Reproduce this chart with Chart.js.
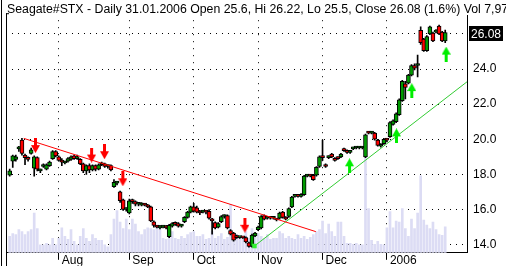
<!DOCTYPE html>
<html><head><meta charset="utf-8">
<script src="https://cdn.jsdelivr.net/npm/chart.js@4"></script>
<style>html,body{margin:0;padding:0;background:#fff;overflow:hidden}canvas{display:block}</style>
</head><body>
<canvas id="c" width="506" height="266"></canvas>
<script>
const titleText = 'Seagate#STX - Daily 31.01.2006 Open 25.6, Hi 26.22, Lo 25.5, Close 26.08 (1.6%) Vol 7,97';
const monthTicks = [16, 39, 60, 81, 102, 123];
const monthLabels = ['Aug', 'Sep', 'Oct', 'Nov', 'Dec', '2006'];
const priceTicks = [14, 16, 18, 20, 22, 24, 26];

const open = [
17.95,18.75,18.85,19.45,19.95,19.10,18.95,19.20,18.35,18.95,
18.20,18.45,18.30,18.50,18.90,19.30,19.00,18.75,18.65,18.75,
18.85,19.05,18.90,18.85,18.60,18.20,18.50,18.25,18.50,18.30,
18.55,18.60,18.45,18.50,17.30,17.50,17.00,16.55,16.00,15.80,
16.50,16.45,16.30,16.25,16.30,16.25,16.15,15.30,15.05,14.95,
15.00,15.05,14.45,15.05,15.20,15.20,15.05,15.30,15.55,15.85,
16.15,16.10,15.85,15.85,15.90,15.90,15.45,15.25,15.00,15.30,
15.60,15.65,14.80,14.65,14.45,14.40,14.40,14.40,14.10,13.90,
14.50,14.85,14.95,15.65,15.50,15.55,15.50,15.45,15.50,15.85,
15.55,15.60,16.15,16.75,16.80,16.75,16.85,17.90,17.95,17.95,
17.95,18.45,19.00,18.50,18.95,19.15,18.85,18.95,19.00,19.45,
19.35,19.25,19.45,19.50,19.50,19.50,19.00,20.40,20.35,20.35,
19.95,19.60,19.75,20.00,20.15,20.85,21.00,21.40,22.20,23.15,
23.20,23.65,24.20,24.20,26.20,25.70,25.05,26.00,26.05,26.10,
26.45,26.10,25.60];
const high = [
18.30,19.10,19.10,19.60,20.05,19.15,19.00,19.50,19.05,19.00,
18.30,18.60,18.60,18.75,19.35,19.35,19.05,18.90,18.75,18.95,
19.05,19.10,19.10,18.90,18.65,18.55,18.60,18.55,18.55,18.60,
18.70,18.65,18.55,18.55,17.70,17.60,17.05,16.60,16.10,16.60,
16.60,16.50,16.40,16.40,16.35,16.30,16.20,15.35,15.10,15.10,
15.10,15.10,15.15,15.25,15.30,15.25,15.15,15.60,15.90,16.20,
16.35,16.20,15.95,15.95,15.95,16.00,15.50,15.30,15.25,15.65,
15.70,15.70,14.85,14.70,14.55,14.45,14.45,14.45,14.15,14.60,
14.70,15.05,15.65,15.70,15.60,15.60,15.60,15.50,15.85,15.90,
15.60,16.10,16.75,16.85,16.85,16.90,17.95,18.00,18.00,18.00,
18.45,19.05,19.95,18.60,19.05,19.20,18.95,19.00,19.20,19.50,
19.40,19.35,19.55,19.60,19.60,19.60,20.30,20.45,20.45,20.40,
20.00,19.75,20.05,20.05,21.00,21.10,21.50,22.30,23.35,23.30,
23.70,24.25,24.30,24.80,26.40,25.75,25.90,26.45,26.10,26.25,
26.50,26.15,26.22];
const low = [
17.90,18.40,18.75,19.30,19.10,18.55,18.75,19.15,17.90,18.20,
18.10,18.40,18.25,18.45,18.85,19.00,18.75,18.50,18.60,18.70,
18.80,18.85,18.85,18.55,18.10,18.00,18.10,18.20,18.20,18.25,
18.50,18.40,18.35,18.20,17.25,17.40,16.40,15.95,15.90,15.75,
16.35,16.20,16.20,16.20,16.20,16.10,15.30,15.00,14.95,14.90,
14.95,14.90,14.40,15.00,15.10,15.00,15.00,15.25,15.50,15.80,
15.85,15.80,15.70,15.80,15.75,15.45,14.60,14.90,14.95,15.25,
15.50,14.90,14.55,14.20,14.35,14.35,14.35,14.10,13.85,13.85,
14.45,14.80,14.90,15.40,15.45,15.45,15.45,15.35,15.45,15.50,
15.40,15.55,16.10,16.70,16.70,16.70,16.80,17.85,17.85,17.65,
17.90,18.40,18.80,18.40,18.90,18.95,18.75,18.85,18.95,19.30,
19.20,19.20,19.40,19.45,19.45,19.45,18.95,20.30,20.30,19.95,
19.60,19.55,19.70,19.85,20.10,20.80,20.95,21.35,22.15,22.30,
23.15,23.60,23.95,23.55,25.40,25.00,25.00,25.95,25.55,26.05,
25.95,25.55,25.50];
const close = [
18.20,19.05,19.00,19.50,19.20,18.95,18.85,19.40,19.00,18.30,
18.25,18.55,18.55,18.70,19.30,19.05,18.80,18.70,18.70,18.90,
19.00,18.90,19.00,18.60,18.20,18.50,18.25,18.50,18.30,18.55,
18.65,18.45,18.50,18.25,17.55,17.55,16.50,16.00,16.05,16.50,
16.45,16.30,16.32,16.35,16.25,16.15,15.35,15.10,15.00,15.05,
15.05,14.95,15.10,15.20,15.15,15.05,15.10,15.55,15.85,16.15,
15.90,15.85,15.80,15.90,15.85,15.50,15.35,14.95,15.20,15.60,
15.65,14.95,14.60,14.25,14.40,14.42,14.38,14.15,13.90,14.55,
14.65,15.00,15.60,15.45,15.55,15.50,15.55,15.40,15.80,15.55,
15.45,16.05,16.70,16.80,16.75,16.85,17.90,17.95,17.90,17.70,
18.40,19.00,18.95,18.45,19.00,19.00,18.80,18.90,19.15,19.35,
19.25,19.30,19.50,19.56,19.55,19.55,20.25,20.35,20.40,20.00,
19.65,19.70,20.00,19.95,20.95,21.05,21.45,22.25,23.30,22.95,
23.65,24.20,24.05,24.20,25.50,25.05,25.85,26.40,25.60,26.20,
26.00,25.60,26.08];
const volume = [
5.0,5.9,5.6,7.1,6.5,5.6,6.5,7.1,12.1,7.4,
2.4,2.4,2.9,2.4,4.4,2.4,4.4,7.6,5.0,4.1,
7.1,3.5,2.4,5.0,7.4,4.4,3.5,5.6,4.4,3.8,
3.8,2.4,1.8,5.6,10.3,12.9,9.4,7.4,10.3,7.1,
10.3,8.8,6.5,5.6,7.1,7.6,7.4,7.1,7.9,7.4,
4.4,4.1,8.8,6.5,4.4,4.1,5.0,4.4,5.6,6.2,
6.5,5.0,5.0,5.6,4.1,4.4,6.5,4.4,5.0,5.9,
4.1,4.7,14.7,5.0,5.6,4.4,5.0,6.5,4.4,7.4,
5.6,5.9,5.0,4.4,5.6,4.1,4.4,4.4,6.5,5.9,
4.4,5.0,4.4,4.1,5.6,4.4,5.0,4.1,4.7,5.6,
6.5,7.1,9.7,5.9,8.8,6.5,5.0,9.4,9.4,5.0,
2.9,2.9,2.6,2.9,2.4,2.4,29.4,13.5,3.8,2.6,
3.5,2.6,2.4,7.6,12.6,7.6,9.7,9.4,13.5,7.4,
5.0,10.3,7.4,12.1,23.5,10.0,8.5,7.4,9.4,7.1,
5.6,5.3,7.9];

// trend lines (day index, price)
const redTrendX = [4.6, 99.8];
const redTrendY = [20.05, 14.74];
const greenTrendX = [79.8, 151.9];
const greenTrendY = [13.92, 23.65];
// signal arrows
const sellX = [8.4, 26.7, 30.9, 36.9, 76.7];
const sellY = [19.64, 19.10, 19.29, 17.75, 15.10];
const buyX = [110.8, 126.1, 131.1, 142.3];
const buyY = [18.49, 20.19, 22.77, 24.85];

const UP = '#009a00', DOWN = '#ff0000', VOL = '#dcdcf4';
const idx = close.map((_, i) => i);

function arrow(color, up) {
  const c = document.createElement('canvas');
  c.width = 9; c.height = 15;
  const g = c.getContext('2d');
  g.fillStyle = color;
  if (!up) {
    g.fillRect(3, 0, 3, 8);
    g.beginPath(); g.moveTo(0, 7); g.lineTo(9, 7); g.lineTo(4.5, 15); g.closePath(); g.fill();
  } else {
    g.fillRect(3, 7, 3, 8);
    g.beginPath(); g.moveTo(0, 8); g.lineTo(9, 8); g.lineTo(4.5, 0); g.closePath(); g.fill();
  }
  return c;
}

Chart.defaults.font.family = "'Liberation Sans', Arial, sans-serif";
Chart.defaults.font.size = 12;
Chart.defaults.color = '#000';

const framePlugin = {
  id: 'frame',
  beforeDatasetsDraw(chart) {
    const {ctx, chartArea: a} = chart;
    ctx.save();
    ctx.fillStyle = '#000';
    ctx.fillRect(1, 0, 1, chart.height);
    ctx.fillRect(a.left, a.top, 1, chart.height - a.top);
    ctx.fillRect(a.left, a.top, a.right - a.left, 1);
    ctx.fillStyle = '#fff';
    ctx.fillRect(a.left + 3, 0, chart.width, 15);
    ctx.fillStyle = '#000';
    ctx.font = "12.3px 'Liberation Sans', Arial, sans-serif";
    ctx.textBaseline = 'alphabetic';
    ctx.textAlign = 'left';
    ctx.fillText(titleText, 7, 12.5);
    ctx.restore();
  },
  afterDraw(chart) {
    const {ctx} = chart;
    const ys = chart.scales.y;
    const last = close[close.length - 1];
    const py = ys.getPixelForValue(last) + 1.5;
    ctx.save();
    ctx.fillStyle = '#000';
    ctx.fillRect(ys.left + 2, Math.round(py - 7.5), 34, 15);
    ctx.fillStyle = '#fff';
    ctx.font = "12px 'Liberation Sans', Arial, sans-serif";
    ctx.textBaseline = 'middle';
    ctx.textAlign = 'left';
    ctx.fillText(last.toFixed(2), ys.left + 4, Math.round(py) + 0.5);
    ctx.restore();
  }
};

new Chart(document.getElementById('c'), {
  type: 'bar',
  data: {
    datasets: [
      { type: 'bar', label: 'Volume', yAxisID: 'yv', order: 10, grouped: false,
        data: idx.map(i => ({x: i, y: volume[i]})),
        backgroundColor: VOL, barThickness: 2 },
      { type: 'bar', label: 'Range', yAxisID: 'y', order: 4, grouped: false,
        data: idx.map(i => ({x: i, y: [low[i], high[i]]})),
        backgroundColor: '#000', barThickness: 1 },
      { type: 'bar', label: 'Body', yAxisID: 'y', order: 3, grouped: false,
        data: idx.map(i => ({x: i, y: [open[i], close[i]]})),
        backgroundColor: idx.map(i => close[i] >= open[i] ? UP : DOWN),
        borderColor: '#000', borderWidth: 1, borderSkipped: false,
        barThickness: 4, minBarLength: 2 },
      { type: 'line', label: 'Down trend', yAxisID: 'y', order: 2,
        data: redTrendX.map((x, i) => ({x, y: redTrendY[i]})),
        borderColor: '#ff0000', borderWidth: 1, pointRadius: 0 },
      { type: 'line', label: 'Up trend', yAxisID: 'y', order: 2,
        data: greenTrendX.map((x, i) => ({x, y: greenTrendY[i]})),
        borderColor: '#33cc33', borderWidth: 1, pointRadius: 0 },
      { type: 'scatter', label: 'Sell', yAxisID: 'y', order: 1,
        data: sellX.map((x, i) => ({x, y: sellY[i]})),
        pointStyle: arrow('#ff0000', false), pointRadius: 5 },
      { type: 'scatter', label: 'Buy', yAxisID: 'y', order: 1,
        data: buyX.map((x, i) => ({x, y: buyY[i]})),
        pointStyle: arrow('#00ee00', true), pointRadius: 5 },
      { type: 'scatter', label: 'Trend ends', yAxisID: 'y', order: 0, clip: false,
        data: greenTrendX.map((x, i) => ({x, y: greenTrendY[i]})),
        pointStyle: 'rect', pointRadius: 3.2, borderWidth: 0,
        backgroundColor: ['#33ee33', '#2aaa2a'] }
    ]
  },
  options: {
    responsive: false, animation: false, devicePixelRatio: 1,
    layout: { padding: { left: 4, top: 4, right: 0, bottom: 0 } },
    plugins: { legend: { display: false }, tooltip: { enabled: false } },
    scales: {
      x: {
        type: 'linear', min: -1.2, max: 149.1, offset: false,
        afterBuildTicks: s => { s.ticks = monthTicks.map(v => ({value: v})); },
        afterFit: s => { s.height = 13; },
        grid: { offset: false, color: '#000', lineWidth: 1, drawTicks: true, tickLength: 7, tickColor: '#000' },
        border: { display: true, color: '#000', width: 1, dash: [1, 6] },
        ticks: { align: 'start', labelOffset: 3, padding: -6, maxRotation: 0, autoSkip: false,
                 callback: (v, i) => monthLabels[i] }
      },
      y: {
        type: 'linear', position: 'right', min: 13.534, max: 27.178,
        afterBuildTicks: s => { s.ticks = priceTicks.map(v => ({value: v})); },
        afterFit: s => { s.width = 39; },
        grid: { color: '#000', lineWidth: 1, drawTicks: false },
        border: { display: true, color: '#000', width: 1, dash: [1, 5] },
        ticks: { padding: 6, callback: v => v === 26 ? '' : v.toFixed(1) }
      },
      yv: { type: 'linear', display: false, min: 0, max: 73.2 }
    }
  },
  plugins: [framePlugin]
});
</script>
</body></html>
